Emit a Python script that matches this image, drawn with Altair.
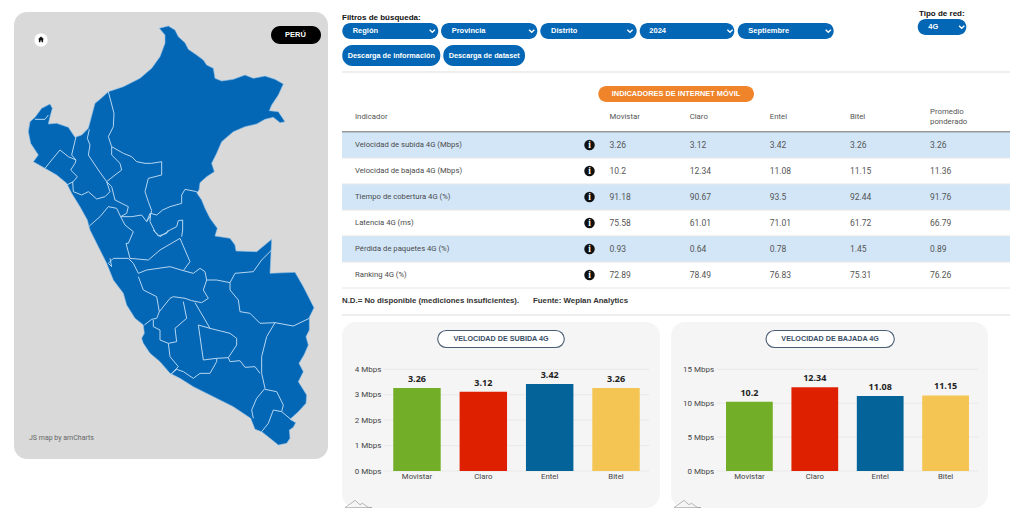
import altair as alt
import pandas as pd

FONT_T = "Roboto"
FONT_B = "Liberation Sans"
BLUE = "#0467b5"

# ---------- values ----------
indicators = ["Velocidad de subida 4G (Mbps)", "Velocidad de bajada 4G (Mbps)", "Tiempo de cobertura 4G (%)",
              "Latencia 4G (ms)", "Pérdida de paquetes 4G (%)", "Ranking 4G (%)"]
columns = ["Movistar", "Claro", "Entel", "Bitel", "Promedio"]
movistar = ["3.26", "10.2", "91.18", "75.58", "0.93", "72.89"]
claro = ["3.12", "12.34", "90.67", "61.01", "0.64", "78.49"]
entel = ["3.42", "11.08", "93.5", "71.01", "0.78", "76.83"]
bitel = ["3.26", "11.15", "92.44", "61.72", "1.45", "75.31"]
promedio = ["3.26", "11.36", "91.76", "66.79", "0.89", "76.26"]
operators = ["Movistar", "Claro", "Entel", "Bitel"]
op_colors = ["#72ae27", "#de2000", "#046399", "#f5c553"]
subida = [3.26, 3.12, 3.42, 3.26]
bajada = [10.2, 12.34, 11.08, 11.15]
subida_ticks = [0, 1, 2, 3, 4]
bajada_ticks = [0, 5, 10, 15]

# Peru outline and department borders (map units, shown through a projection)
peru_outline = [[478,85],[505,78],[525,90],[535,110],[555,128],[565,148],[590,165],[610,180],[620,195],[640,205],[645,235],
    [665,243],[700,238],[735,225],[760,235],[795,228],[825,238],[850,252],[835,285],[815,315],[808,332],[835,335],[848,355],
    [855,365],[840,368],[820,352],[795,358],[770,372],[735,380],[700,395],[665,425],[650,460],[635,490],[643,515],[620,530],
    [600,548],[597,570],[590,578],[605,600],[615,625],[630,655],[652,685],[645,708],[690,715],[705,735],[708,753],[770,755],
    [815,718],[810,820],[885,817],[910,860],[942,923],[928,952],[928,990],[918,1010],[925,1035],[912,1065],[897,1090],
    [910,1115],[895,1145],[920,1185],[918,1210],[895,1235],[870,1258],[887,1268],[880,1282],[868,1290],[870,1315],[860,1330],
    [835,1335],[810,1315],[785,1295],[765,1288],[752,1255],[700,1220],[640,1190],[580,1160],[540,1135],[510,1120],[480,1085],
    [450,1060],[430,1030],[425,1015],[433,1000],[430,975],[405,955],[380,915],[370,880],[340,840],[320,790],[295,740],[270,690],
    [262,660],[240,620],[215,580],[200,550],[170,525],[135,505],[100,485],[115,465],[92,430],[85,395],[90,365],[105,352],
    [125,325],[150,312],[157,325],[150,350],[145,372],[170,370],[205,382],[225,412],[245,405],[265,385],[285,310],[300,298],
    [325,275],[370,260],[420,235],[455,205],[480,170],[495,130],[495,105]]
borders = [
    [[325,275],[342,340],[340,380],[325,410],[335,440],[370,460],[395,470],[410,485],[435,490],[455,490],[485,485],[485,525],
     [445,535],[435,575],[445,605],[455,632],[450,650],[440,665]],
    [[590,575],[555,568],[545,585],[545,610],[510,620],[488,630],[470,645],[452,640],[450,665],[465,695],[480,710],[510,690],
     [530,680],[535,662],[548,660],[548,690],[545,710]],
    [[105,358],[135,358],[145,345]],
    [[135,505],[155,480],[180,450],[205,470],[228,480]],
    [[228,410],[215,465],[228,480],[225,490],[212,510],[232,530],[220,545],[200,555]],
    [[218,545],[220,575],[245,585],[265,575],[290,597],[315,590],[330,575],[320,545],[295,510],[265,465],[270,435],[262,415],[268,388]],
    [[320,545],[345,525],[365,510],[360,490],[335,465],[335,440]],
    [[320,545],[335,560],[345,600],[385,620],[380,640],[362,650],[395,650],[425,645],[440,665],[450,640]],
    [[268,678],[300,650],[325,620],[350,625],[362,650],[375,675],[400,695],[385,730],[378,730],[390,775]],
    [[330,775],[335,800],[325,790],[340,775],[385,775],[400,790],[415,820],[440,810],[510,800],[550,812],[580,820],[600,805],
     [615,815],[620,840],[610,870],[625,895],[605,908],[575,902],[555,895],[520,890],[510,895],[478,935],[470,890],[430,870],[415,830]],
    [[390,775],[445,780],[480,750],[540,715],[570,785],[550,812]],
    [[460,690],[475,708],[500,700],[505,690]],
    [[620,840],[650,840],[690,848],[705,820],[760,815],[785,780],[815,750]],
    [[690,848],[690,870],[715,900],[720,935],[750,940],[780,970],[825,968],[880,978],[928,955]],
    [[825,968],[800,1010],[785,1070],[785,1120],[795,1165]],
    [[585,908],[630,985],[595,975],[600,1010],[610,1080],[650,1075],[685,1073],[710,1035],[710,1015],[690,1000],[630,985]],
    [[685,1073],[690,1085],[720,1082],[735,1102],[765,1100],[780,1120]],
    [[510,1125],[530,1108],[550,1115],[580,1135],[600,1120],[630,1120],[650,1085],[650,1075]],
    [[433,975],[455,958],[470,955],[478,935]],
    [[460,960],[460,980],[480,990],[480,1020],[505,1030],[530,1025],[525,985],[560,955],[550,905]],
    [[505,1030],[510,1070],[535,1100],[510,1125]],
    [[795,1165],[770,1195],[755,1230],[760,1255]],
    [[795,1168],[830,1175],[850,1215],[845,1235]],
    [[785,1295],[805,1270],[820,1230],[845,1235],[875,1260]],
]


def one(**row):
    return alt.Chart(alt.Data(values=[row]))


def box(x0, y0, x1, y1, fill, radius=0, stroke=None, sw=1):
    kw = {"fill": fill, "cornerRadius": radius}
    if stroke:
        kw.update(stroke=stroke, strokeWidth=sw)
    return one(k=1).mark_rect(**kw).encode(x=alt.value(x0), x2=alt.value(x1), y=alt.value(y0), y2=alt.value(y1))


def label(s, x, y, size=9, color="#444444", bold=False, align="left", font=FONT_T):
    return one(t=s).mark_text(fontSize=size, color=color, fontWeight="bold" if bold else "normal", align=align,
                              baseline="middle", font=font).encode(x=alt.value(x), y=alt.value(y), text="t:N")


def glyph(path, x, y, size, fill=None, stroke=None, sw=1):
    kw = {"shape": path, "size": size, "opacity": 1}
    if fill:
        kw.update(filled=True, fill=fill, strokeWidth=0)
    else:
        kw.update(filled=False, stroke=stroke, strokeWidth=sw)
    return one(k=1).mark_point(**kw).encode(x=alt.value(x), y=alt.value(y))


# ---------- map panel ----------  (origin: page 8,8)
MW, MH = 320, 451
proj = dict(type="identity", scale=1 / 3, translate=[-8, -8])
land = alt.Chart(alt.Data(values=[{"type": "Feature", "properties": {"n": "Perú"},
                                   "geometry": {"type": "Polygon", "coordinates": [peru_outline + [peru_outline[0]]]}}])
                 ).mark_geoshape(fill=BLUE, stroke="#8fbfe8", strokeWidth=0.6, strokeJoin="round").project(**proj)
lines = alt.Chart(alt.Data(values=[{"type": "Feature", "properties": {"i": i},
                                    "geometry": {"type": "LineString", "coordinates": b}} for i, b in enumerate(borders)])
                  ).mark_geoshape(filled=False, stroke="#b5d6f2", strokeWidth=1, strokeJoin="round").project(**proj)
map_panel = alt.layer(
    box(6, 4, 320, 451, "#d9d9d9", 13),
    land, lines,
    box(263, 18, 313, 36, "#000000", 9),
    label("PERÚ", 287.5, 27, 7.5, "#ffffff", True, "center", FONT_B),
    one(k=1).mark_point(filled=True, fill="#ffffff", size=180, opacity=1, strokeWidth=0).encode(x=alt.value(33), y=alt.value(32)),
    glyph("M0,-1L1,-0.1L0.7,-0.1L0.7,0.9L0.2,0.9L0.2,0.3L-0.2,0.3L-0.2,0.9L-0.7,0.9L-0.7,-0.1L-1,-0.1Z", 33, 31.5, 36, fill="#111111"),
    label("JS map by amCharts", 21, 430, 7, "#666666"),
).properties(width=MW, height=MH)

# ---------- filters + table panel ---------- (origin: page 342,8)
OX, OY = 342, 8
TW, TH = 668, 308
col_scale = alt.Scale(domain=columns, range=[609.5 - OX, 930 - OX], padding=0)
row_scale = alt.Scale(domain=indicators, range=[132 - OY, 288 - OY], paddingInner=0, paddingOuter=0)
y_row = alt.Y("row:N", scale=row_scale, axis=None, sort=None)
x_col = alt.X("col:N", scale=col_scale, axis=None, sort=None)


def P(x0, y0, x1, y1, fill, **k):
    return box(x0 - OX, y0 - OY, x1 - OX, y1 - OY, fill, **k)


def L(s, x, y, *a, **k):
    return label(s, x - OX, y - OY, *a, **k)


CHEV = "M-1,-0.5L0,0.5L1,-0.5"


def dropdown(text, x0, x1, tx, cx, y0=23, y1=39):
    return [P(x0, y0, x1, y1, BLUE, radius=8),
            L(text, tx, (y0 + y1) / 2, 7.5, "#ffffff", True, font=FONT_B),
            glyph(CHEV, cx - OX, (y0 + y1) / 2 - OY, 28, stroke="#ffffff", sw=1.3)]


table_rows = pd.DataFrame({"row": indicators})
band_rows = pd.DataFrame({"row": indicators[0::2]})
cells = pd.DataFrame([{"row": r, "col": c, "t": vals[i]}
                      for c, vals in zip(columns, [movistar, claro, entel, bitel, promedio])
                      for i, r in enumerate(indicators)])
heads = pd.DataFrame({"col": columns[:4]})

layers = [
    L("Filtros de búsqueda:", 342, 17.5, 8, "#111111", True, font=FONT_B),
    L("Tipo de red:", 919, 13.5, 8, "#111111", True, font=FONT_B),
]
layers += dropdown("Región", 342.3, 438.3, 352.7, 432.3)
layers += dropdown("Provincia", 441, 537.3, 451.7, 531.7)
layers += dropdown("Distrito", 540.3, 636.7, 551, 630)
layers += dropdown("2024", 639.7, 734.3, 649.3, 730)
layers += dropdown("Septiembre", 737.7, 833.7, 748.3, 828.3)
layers += dropdown("4G", 917.7, 966.3, 928.3, 961.7, 19, 35)
layers += [
    P(342.3, 45, 440.3, 66, BLUE, radius=10),
    L("Descarga de información", 391.3, 55.5, 7.3, "#ffffff", True, "center", FONT_B),
    P(443.3, 45, 525, 66, BLUE, radius=10),
    L("Descarga de dataset", 484.2, 55.5, 7.3, "#ffffff", True, "center", FONT_B),
    P(342, 71.5, 1010, 72.5, "#dddddd"),
    P(598.3, 86, 754, 102, "#f0842a", radius=8),
    L("INDICADORES DE INTERNET MÓVIL", 676, 94.2, 7.4, "#ffffff", True, "center", FONT_B),
    L("Indicador", 355, 117, 7.8, "#555555"),
    alt.Chart(heads).mark_text(fontSize=7.8, color="#555555", align="left", baseline="middle", font=FONT_T).encode(
        x=x_col, y=alt.value(117 - OY), text="col:N"),
    L("Promedio", 930, 112, 7.8, "#555555"),
    L("ponderado", 930, 122, 7.8, "#555555"),
    alt.Chart(band_rows).mark_rect(fill="#d2e6f8").encode(y=y_row, x=alt.value(0), x2=alt.value(TW)),
    P(342, 131, 1010, 132.5, "#999999"),
    alt.Chart(table_rows).mark_rule(color="#e6e6e6", strokeWidth=1).encode(
        y=alt.Y("row:N", scale=row_scale, axis=None, sort=None, bandPosition=1), x=alt.value(0), x2=alt.value(TW)),
    alt.Chart(table_rows).mark_text(fontSize=7.7, color="#4a4a4a", align="left", baseline="middle", font=FONT_T).encode(
        y=y_row, x=alt.value(355 - OX), text="row:N"),
    alt.Chart(table_rows).mark_point(filled=True, fill="#111111", size=110, opacity=1, strokeWidth=0).encode(
        y=y_row, x=alt.value(589.5 - OX)),
    alt.Chart(table_rows.assign(t="i")).mark_text(fontSize=9.5, color="#ffffff", fontWeight="bold", font="Liberation Serif",
                                                  baseline="middle", align="center").encode(
        y=y_row, x=alt.value(589.5 - OX), text="t:N"),
    alt.Chart(cells).mark_text(fontSize=8.5, color="#555555", align="left", baseline="middle", font=FONT_T).encode(
        y=y_row, x=x_col, text="t:N"),
    L("N.D.= No disponible (mediciones insuficientes).", 342, 301, 7.85, "#333333", True, font=FONT_B),
    L("Fuente: Weplan Analytics", 533, 301, 7.85, "#333333", True, font=FONT_B),
    P(342, 314.5, 1010, 315.5, "#dddddd"),
]
top_panel = alt.layer(*layers).properties(width=TW, height=TH)


# ---------- bar panels ----------
MOUNTAIN = "M-1,0.27L-0.25,-0.27L0.1,0.05L0.3,-0.05L0.75,0.27L1,0.27M-1,0.27L1,0.27"


def bar_panel(title, values, ticks, w, x_range, tx0, tx1):
    H = 186
    df = pd.DataFrame({"op": operators, "v": values, "t": [str(v) for v in values]})
    ys = alt.Scale(domain=[ticks[0], ticks[-1]], range=[149, 47.3], nice=False)
    xs = alt.Scale(domain=operators, range=x_range, paddingInner=0.285, paddingOuter=0.1425)
    xax = alt.Axis(offset=-(H - 149), domain=False, ticks=False, labelAngle=0, labelPadding=1, labelFontSize=7.8,
                   labelFont=FONT_T, labelColor="#444444", grid=False, title=None)
    yax = alt.Axis(offset=-x_range[0], values=ticks, domain=False, ticks=False, grid=False, labelPadding=3,
                   labelFontSize=8, labelFont=FONT_T, labelColor="#444444", title=None,
                   labelExpr="datum.value + ' Mbps'")
    grid = alt.Chart(pd.DataFrame({"v": ticks})).mark_rule(color="#e9e9e9", strokeWidth=1).encode(
        y=alt.Y("v:Q", scale=ys, axis=yax), x=alt.value(x_range[0]), x2=alt.value(x_range[1]))
    bars = alt.Chart(df).mark_bar().encode(
        x=alt.X("op:N", scale=xs, sort=None, axis=xax),
        y=alt.Y("v:Q", scale=ys, axis=yax),
        color=alt.Color("op:N", scale=alt.Scale(domain=operators, range=op_colors), legend=None),
    )
    vals = alt.Chart(df).mark_text(fontSize=9, fontWeight="bold", color="#222222", baseline="bottom", dy=-4,
                                   font="Open Sans").encode(
        x=alt.X("op:N", scale=xs, sort=None, axis=xax),
        y=alt.Y("v:Q", scale=ys, axis=yax), text="t:N")
    return alt.layer(
        grid, bars, vals,
        box(tx0, 8.5, tx1, 25.5, "#ffffff", 8.5, stroke="#4a5d73", sw=1.1),
        label(title, (tx0 + tx1) / 2, 17.3, 7.2, "#3a4f66", True, "center", FONT_B),
        glyph(MOUNTAIN, 16.5, 182, 729, stroke="#999999", sw=0.7),
    ).properties(width=w, height=H, view=alt.ViewConfig(fill="#f5f5f5", cornerRadius=14, stroke=None))


chart_a = bar_panel("VELOCIDAD DE SUBIDA 4G", subida, subida_ticks, 318, [41.8, 307.2], 95.7, 222.3)
chart_b = bar_panel("VELOCIDAD DE BAJADA 4G", bajada, bajada_ticks, 317, [45.7, 307.3], 95, 223.3)

right = alt.vconcat(top_panel, alt.hconcat(chart_a, chart_b, spacing=11), spacing=6)
chart = alt.hconcat(map_panel, right, spacing=13).properties(padding=0, background="#ffffff").configure_view(stroke=None)
chart.save("out.html", embed_options={"renderer": "svg", "actions": False})
